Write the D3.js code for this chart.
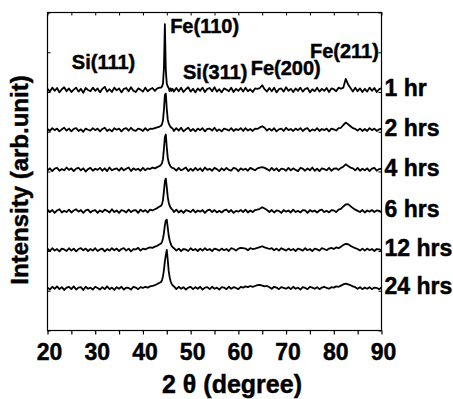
<!DOCTYPE html>
<html><head><meta charset="utf-8">
<script src="https://cdn.jsdelivr.net/npm/d3@7"></script>
<style>
body{margin:0;background:#fff}
svg{display:block}
text{font-family:"Liberation Sans",Arial,Helvetica,sans-serif;font-weight:bold;fill:#000;stroke:#000;stroke-width:0.45}
</style>
</head><body><svg id="c" width="453" height="399"></svg>
<script>
// 2θ sampling positions (degree)
const twoTheta = [
20,20.5,21,21.5,22,22.5,23,23.5,24,24.5, 25,25.5,26,26.5,27,27.5,28,28.5,29,29.5,
30,30.5,31,31.5,32,32.5,33,33.5,34,34.5, 35,35.5,36,36.5,37,37.5,38,38.5,39,39.5,
40,40.5,41,41.5,42,42.5,43,43.5,
43.8,44,44.2,44.4,44.6,44.8,45,45.2,45.4,45.6,45.8,46,46.2,
46.5,47,47.5,48,48.5,49,49.5,50,50.5,51, 51.5,52,52.5,53,53.5,54,54.5,55,55.5,56,
56.5,57,57.5,58,58.5,59,59.5,60,60.5,61, 61.5,62,62.5,63,63.5,64,64.5,65,65.5,66,
66.5,67,67.5,68,68.5,69,69.5,70,70.5,71, 71.5,72,72.5,73,73.5,74,74.5,75,75.5,76,
76.5,77,77.5,78,78.5,79,79.5,80,80.5,81, 81.5,82,82.5,83,83.5,84,84.5,85,85.5,86,
86.5,87,87.5,88,88.5,89,89.5,90];

const seriesNames = ["1 hr","2 hrs","4 hrs","6 hrs","12 hrs","24 hrs"];
const seriesOffsets = [605,505,405,300,203,106];

const int1hr = [
3,-4,6,-2,5,-6,2,7,-3,4, -5,1,6,-4,3,-7,5,0,-3,6, -2,4,-6,3,8,-4,2,-5,6,-1, 4,-6,3,5,-3,7,-2,-5,4,1,
-4,6,-3,2,5,-2,4,6,
6,9,16,55,166,48,16,9,5,-3,4,-2,3,
-4,5,-3,6,-5,2,7,-4,3,-6, 4,-2,6,-5,3,5,-3,7,-4,2, -6,4,1,-3,6,-5,3,-2,5,-4, 6,-3,2,-5,4,3,5,12,2,-4,
5,-3,6,-6,2,4,-4,7,-2,3, -5,4,-2,6,-4,3,5,-6,2,-3, 6,-4,3,-2,5,-5,4,2,-3,6, 3,6,28,14,5,-4,6,-3,4,-5,
3,-4,6,-2,5,-5,2,4];

const int2hrs = [
2,-3,4,-1,3,-4,1,5,-2,3, -4,2,4,-3,1,-5,3,0,-2,4, -1,3,-4,2,5,-3,1,-4,4,0, 3,-4,2,4,-2,5,-1,-3,3,1,
-3,4,-2,3,2,4,6,8,
10,14,24,50,88,91,52,26,16,11,7,5,3,
-3,4,-2,5,-4,1,5,-3,2,-4, 3,-1,4,-4,2,3,-2,5,-3,1, -4,3,1,-2,4,-3,2,-1,4,-3, 4,-2,2,-3,3,2,6,9,5,-2,
3,-2,4,-4,1,3,-3,5,-1,2, -3,3,-1,4,-3,2,4,-4,1,-2, 4,-3,2,-1,3,-4,3,1,-2,4, 5,12,18,14,9,4,2,-2,3,-3,
2,-3,4,-1,3,-3,1,3];

const int4hrs = [
-2,3,-4,2,4,-3,1,-2,5,-1, 3,-4,2,4,-2,3,-5,1,4,-3, 2,-1,4,-3,3,-4,5,-2,1,3, -3,4,-2,2,5,-4,3,-1,2,-3,
4,-2,3,1,5,3,6,9,
12,16,26,52,82,88,56,30,18,12,8,5,4,
3,-3,4,-2,1,5,-4,2,-3,4, -2,3,-4,5,-1,2,-3,4,1,-4, 3,-2,4,-1,-3,4,2,-4,3,-1, 2,-3,4,1,-2,3,5,6,4,1,
-3,4,-2,3,-4,2,1,-3,4,-2, 3,-1,-4,4,2,-3,3,-2,5,-3, 2,-4,3,1,-2,4,-3,2,3,-1, 4,7,13,9,5,3,-2,4,-3,2,
-2,3,-4,2,4,-3,1,2];

const int6hrs = [
4,-2,3,-4,2,5,-3,1,-2,4, -3,2,5,-1,3,-4,2,4,-3,1, 3,-4,2,-2,4,1,-3,5,-2,2, -4,3,1,-3,4,-2,2,3,-4,4,
-1,3,-3,4,2,5,8,12,
14,18,28,50,76,82,60,36,22,14,9,6,4,
-2,4,-3,2,-4,3,1,-2,4,-3, 2,-1,3,-4,2,4,-2,3,-3,1, -3,2,4,-2,3,-4,1,-1,3,-2, 4,-3,2,-2,3,4,6,10,7,3,
-2,3,-3,2,1,-4,3,-1,2,-3, 4,-2,1,-3,3,2,-4,3,-1,2, -3,2,4,-2,1,-3,3,2,-2,4, 6,12,17,18,13,8,4,1,-2,3,
-3,2,-1,3,-2,2,1,-2];

const int12hrs = [
3,-3,4,-2,2,-4,3,1,-3,4, -2,3,-4,2,4,-1,3,-3,2,-2, 4,-3,1,3,-4,2,-2,4,-1,3, -3,2,4,-2,3,-4,2,1,5,-2,
3,1,4,6,5,8,10,14,
16,20,28,42,62,74,76,56,36,24,16,10,7,
4,-2,3,-3,2,1,-3,4,-1,2, -3,3,-2,4,-1,2,-3,3,1,-2, 3,-1,2,-3,4,2,-2,3,5,4, 3,-1,4,2,3,5,7,9,6,4,
2,4,-1,3,-2,4,1,-2,3,-1, 2,-3,3,1,-2,4,-1,2,-3,3, 1,-2,4,2,-1,3,5,2,6,4, 8,12,15,14,10,7,4,2,-2,3,
-2,3,-1,2,-3,2,1,-1];

const int24hrs = [
2,-3,4,-1,5,-2,3,-4,2,4, -2,5,-3,2,3,-4,4,-1,2,-3, 4,1,-3,3,-2,5,-2,2,-4,3, -1,4,-3,2,1,-3,4,2,-2,3,
1,4,2,5,6,8,11,14,
16,21,30,46,68,84,97,72,44,28,18,12,8,
5,-2,4,-1,3,-3,2,4,-2,3, -1,4,-3,2,3,-2,4,-1,2,-3, 3,2,-2,4,-1,3,1,-2,4,2, 5,3,6,4,6,8,9,7,5,6,
3,-1,4,2,-2,3,1,-1,3,-2, 4,-1,2,-3,3,1,-2,4,2,-1, 3,-2,2,4,1,-1,3,2,5,4, 7,10,12,10,8,5,3,-1,3,-2,
2,-1,3,-2,2,1,-2,2];

const seriesIntensity = [int1hr,int2hrs,int4hrs,int6hrs,int12hrs,int24hrs];

const xTickValues = [20,30,40,50,60,70,80,90];
const xMinorTicks = [20,25,30,35,40,45,50,55,60,65,70,75,80,85,90];
const yTickValues = [0,100,200,300,400,500,600,700,800];

const peakNames = ["Si(111)","Fe(110)","Si(311)","Fe(200)","Fe(211)"];

const L = 47.5, R = 381.5, T = 12.5, B = 330.5;
const svg = d3.select("#c");
const x = d3.scaleLinear().domain([20,90]).range([L,R]);
const y = d3.scaleLinear().domain([0,800]).range([B,T]);

// frame
svg.append("rect").attr("x",L).attr("y",T).attr("width",R-L).attr("height",B-T)
  .attr("fill","none").attr("stroke","#000").attr("stroke-width",1.2);

// bottom axis
const gb = svg.append("g").attr("transform",`translate(0,${B})`);
gb.call(d3.axisBottom(x).tickValues(xMinorTicks).tickSize(4).tickFormat(""))
  .call(g=>g.select(".domain").remove());
gb.selectAll("line").attr("stroke","#000").attr("stroke-width",1.2);
gb.selectAll(".lbl").data(xTickValues).join("text")
  .attr("x",d=>x(d)+2).attr("y",29).attr("text-anchor","middle")
  .attr("font-size",23).text(d=>d);
// top axis inward ticks
const gt = svg.append("g").attr("transform",`translate(0,${T})`);
gt.call(d3.axisBottom(x).tickValues(xMinorTicks).tickSize(3).tickFormat(""))
  .call(g=>g.select(".domain").remove());
gt.selectAll("line").attr("stroke","#000");
// left / right axis inward ticks
const gl = svg.append("g").attr("transform",`translate(${L},0)`);
gl.call(d3.axisRight(y).tickValues(yTickValues).tickSize(3).tickFormat(""))
  .call(g=>g.select(".domain").remove());
gl.selectAll("line").attr("stroke","#000");
const gr = svg.append("g").attr("transform",`translate(${R},0)`);
gr.call(d3.axisLeft(y).tickValues(yTickValues).tickSize(3).tickFormat(""))
  .call(g=>g.select(".domain").remove());
gr.selectAll("line").attr("stroke","#000");

// patterns
const line = d3.line().x(d=>x(d[0])).y(d=>y(d[1]));
seriesIntensity.forEach((vals,k)=>{
  const pts = twoTheta.map((t,i)=>[t, seriesOffsets[k] + vals[i]]).filter(d=>d[1]===d[1]);
  svg.append("path").datum(pts).attr("d",line)
    .attr("fill","none").attr("stroke","#000").attr("stroke-width",1.8)
    .attr("stroke-linejoin","round");
  svg.append("text").attr("x",R+3).attr("y",y(seriesOffsets[k])+6)
    .attr("font-size",23).text(seriesNames[k]);
});

// peak annotations
const ann = [[25.1,658],[45.7,748],[48.4,633],[62.6,643],[75.0,686]];
peakNames.forEach((n,i)=>{
  svg.append("text").attr("x",x(ann[i][0])).attr("y",y(ann[i][1]))
    .attr("font-size",20).text(n);
});

// axis titles
svg.append("text").attr("x",232).attr("y",393).attr("text-anchor","middle")
  .attr("font-size",25).text("2 θ (degree)");
svg.append("text").attr("transform",`translate(28,180) rotate(-90)`)
  .attr("text-anchor","middle").attr("font-size",24).text("Intensity (arb.unit)");
</script>
</body></html>
